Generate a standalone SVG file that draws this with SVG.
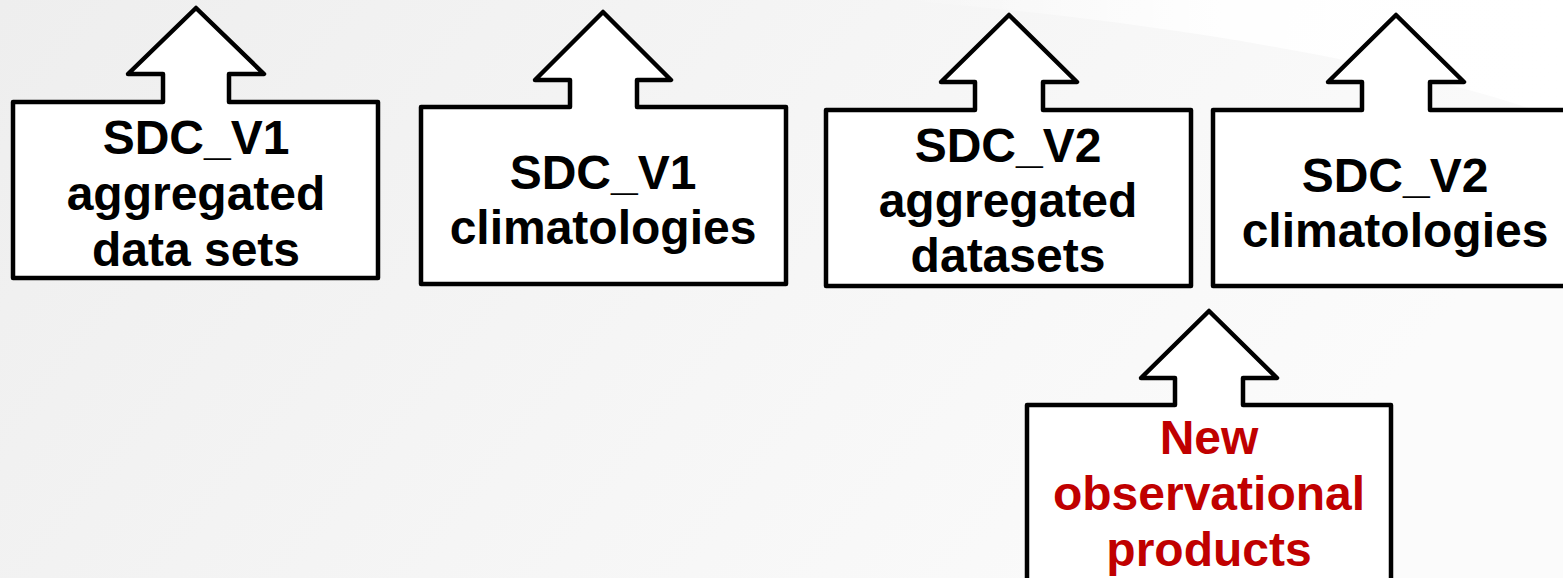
<svg xmlns="http://www.w3.org/2000/svg" width="1563" height="578" viewBox="0 0 1563 578">
  <defs>
    <linearGradient id="bg" x1="0" y1="0" x2="1" y2="0.3">
      <stop offset="0" stop-color="#eeeeee"/>
      <stop offset="0.6" stop-color="#f6f6f6"/>
      <stop offset="1" stop-color="#fbfbfb"/>
    </linearGradient>
    <linearGradient id="sw" x1="0" y1="0" x2="1" y2="0">
      <stop offset="0" stop-color="#ffffff" stop-opacity="0"/>
      <stop offset="0.5" stop-color="#ffffff" stop-opacity="0.9"/>
      <stop offset="1" stop-color="#ffffff" stop-opacity="1"/>
    </linearGradient>
  </defs>
  <style>
    .box { fill: #ffffff; stroke: #000000; stroke-width: 4.5; stroke-linejoin: round; }
    .lbl { font-family: "Liberation Sans", Arial, sans-serif; font-weight: bold; font-size: 48px; text-anchor: middle; fill: #000000; }
    .red { fill: #c00000; }
  </style>
  <rect x="0" y="0" width="1563" height="578" fill="url(#bg)"/>
  <path d="M900,0 H1563 V120 C1400,60 1150,20 900,0 Z" fill="url(#sw)"/>
  <g id="connectors"/>
  <g id="node-sdc-v1-agg">
    <path class="box" d="M13,102 H163 V74 H128 L196,8 L264,74 H229 V102 H378 V278 H13 Z"/>
    <text class="lbl" x="196" y="154">SDC_V1</text>
    <text class="lbl" x="196" y="210">aggregated</text>
    <text class="lbl" x="196" y="266">data sets</text>
  </g>
  <g id="node-sdc-v1-clim">
    <path class="box" d="M421,107 H570 V80 H535 L603,12 L671,80 H637 V107 H786 V284 H421 Z"/>
    <text class="lbl" x="603" y="189">SDC_V1</text>
    <text class="lbl" x="603" y="244">climatologies</text>
  </g>
  <g id="node-sdc-v2-agg">
    <path class="box" d="M826,110 H975 V82 H941 L1009,15 L1077,82 H1043 V110 H1191 V286 H826 Z"/>
    <text class="lbl" x="1008" y="162">SDC_V2</text>
    <text class="lbl" x="1008" y="217">aggregated</text>
    <text class="lbl" x="1008" y="272">datasets</text>
  </g>
  <g id="node-sdc-v2-clim">
    <path class="box" d="M1213,110 H1362 V82 H1328 L1396,15 L1464,82 H1430 V110 H1579 V286 H1213 Z"/>
    <text class="lbl" x="1395" y="192">SDC_V2</text>
    <text class="lbl" x="1395" y="247">climatologies</text>
  </g>
  <g id="node-new-obs">
    <path class="box" d="M1027,405 H1175 V378 H1141 L1209,311 L1277,378 H1243 V405 H1391 V600 H1027 Z"/>
    <text class="lbl red" x="1209" y="454">New</text>
    <text class="lbl red" x="1209" y="510">observational</text>
    <text class="lbl red" x="1209" y="566">products</text>
  </g>
</svg>
